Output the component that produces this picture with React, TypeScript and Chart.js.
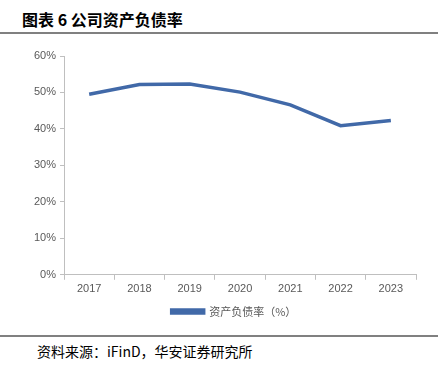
import React, { useEffect, useRef } from "react";
import { Chart, registerables } from "chart.js";

Chart.register(...registerables);

const years = ["2017", "2018", "2019", "2020", "2021", "2022", "2023"];
const debtRatio = [49.5, 52.2, 52.3, 50.1, 46.6, 40.9, 42.3];
const seriesName = "资产负债率（%）";
const yTicks = [0, 10, 20, 30, 40, 50, 60];

const legendShift = {
  id: "legendShift",
  afterLayout(chart: any) {
    const lg = chart.legend;
    if (lg) {
      lg.left += 11;
      lg.right += 11;
    }
  },
};

export default function App() {
  const ref = useRef<HTMLCanvasElement | null>(null);
  useEffect(() => {
    document.body.style.margin = "0";
    const ctx = ref.current!;
    const chart = new Chart(ctx, {
      type: "line",
      data: {
        labels: years,
        datasets: [
          {
            label: seriesName,
            data: debtRatio,
            borderColor: "#4169A8",
            backgroundColor: "#4169A8",
            borderWidth: 3.5,
            pointRadius: 0,
            tension: 0,
          },
        ],
      },
      plugins: [legendShift],
      options: {
        animation: false,
        responsive: false,
        maintainAspectRatio: false,
        layout: { padding: { left: 30, right: 22, top: 16, bottom: 3 } },
        plugins: {
          tooltip: { enabled: false },
          legend: {
            position: "bottom",
            labels: {
              boxWidth: 32,
              boxHeight: 3,
              padding: 7,
              color: "#595959",
              font: { family: "'Noto Sans CJK SC', sans-serif", size: 11 },
            },
          },
        },
        scales: {
          x: {
            offset: true,
            grid: {
              offset: true,
              drawOnChartArea: false,
              drawTicks: true,
              tickLength: 5,
              color: "#bfbfbf",
            },
            border: { color: "#bfbfbf", width: 1 },
            ticks: {
              color: "#595959",
              font: { family: "'Liberation Sans', Arial, sans-serif", size: 11 },
              padding: 3,
            },
          },
          y: {
            min: 0,
            max: 60,
            afterBuildTicks: (axis: any) => {
              axis.ticks = yTicks.map((v) => ({ value: v }));
            },
            grid: {
              drawOnChartArea: false,
              drawTicks: true,
              tickLength: 4,
              color: "#bfbfbf",
            },
            border: { color: "#bfbfbf", width: 1 },
            ticks: {
              color: "#595959",
              font: { family: "'Liberation Sans', Arial, sans-serif", size: 11 },
              padding: 4,
              callback: (v: any) => v + "%",
            },
          },
        },
      },
    });
    return () => chart.destroy();
  }, []);

  return (
    <div style={{ position: "absolute", left: 0, top: 0, width: 438, height: 368, background: "#fff" }}>
      <div
        style={{
          position: "absolute",
          left: 22,
          top: 8,
          fontFamily: "'Noto Sans CJK SC', sans-serif",
          fontWeight: 700,
          fontSize: 16,
          color: "#000",
          lineHeight: "22px",
        }}
      >
        图表 6 公司资产负债率
      </div>
      <div style={{ position: "absolute", left: 0, top: 32, width: 438, height: 2, background: "#808080" }} />
      <canvas ref={ref} width={438} height={290} style={{ position: "absolute", left: 0, top: 40, width: 438, height: 290 }} />
      <div style={{ position: "absolute", left: 0, top: 335, width: 438, height: 2, background: "#808080" }} />
      <div
        style={{
          position: "absolute",
          left: 37,
          top: 341,
          fontFamily: "'Noto Sans CJK SC', sans-serif",
          fontSize: 14,
          color: "#000",
          lineHeight: "20px",
        }}
      >
        资料来源：iFinD，华安证券研究所
      </div>
    </div>
  );
}
